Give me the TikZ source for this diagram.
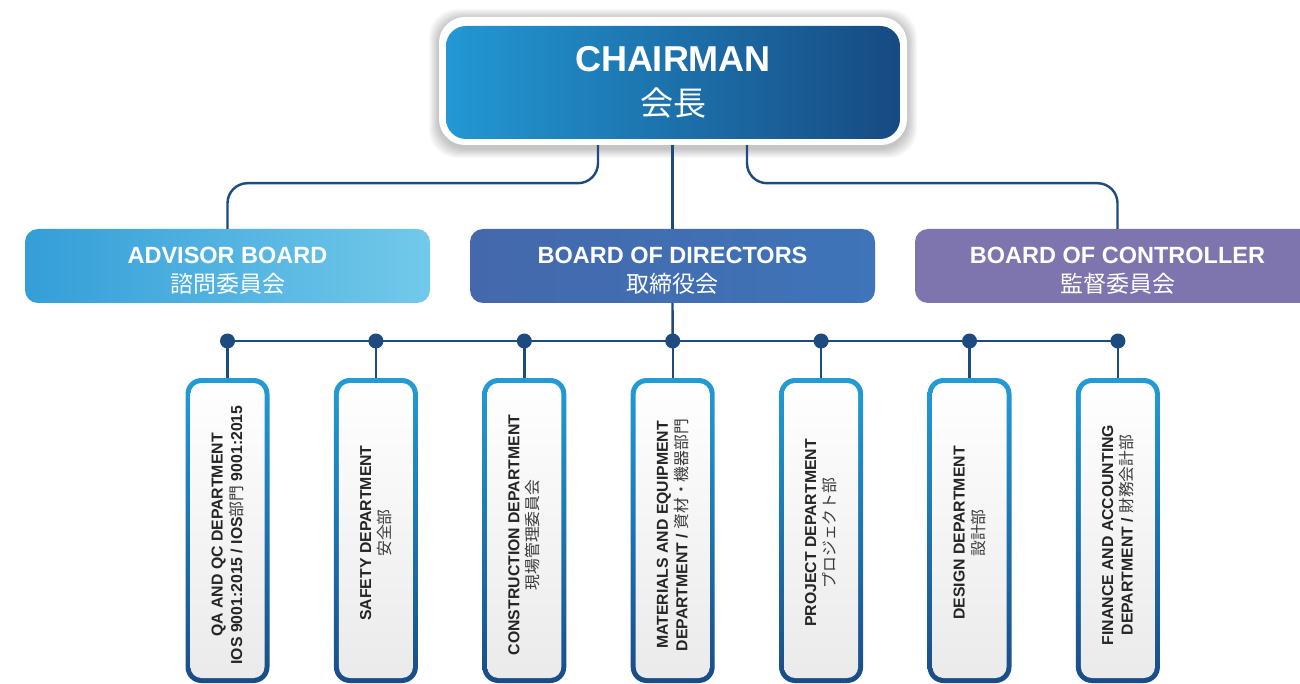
\documentclass[tikz,border=0pt]{standalone}
\usepackage{fontspec}
\setmainfont{Liberation Sans}
\newfontfamily\cjk{Noto Sans CJK JP}
\usetikzlibrary{calc}
\definecolor{conn}{HTML}{1D4B80}
\definecolor{chairL}{HTML}{2298D4}
\definecolor{chairR}{HTML}{174A82}
\definecolor{advL}{HTML}{349ED8}
\definecolor{advR}{HTML}{72C9EA}
\definecolor{dirL}{HTML}{4568AC}
\definecolor{dirR}{HTML}{3E74B8}
\definecolor{conL}{HTML}{7E75AF}
\definecolor{conM}{HTML}{9690C3}
\definecolor{brdT}{HTML}{229CD6}
\definecolor{brdB}{HTML}{1A4C87}
\definecolor{fillB}{HTML}{EAEAEA}
\definecolor{txt}{HTML}{252525}
\definecolor{txtj}{HTML}{3A3A3A}
\tikzset{
  connector/.style={draw=conn, line width=2.4pt},
  chairbox/.style={left color=chairL, right color=chairR, rounded corners=20pt,
    minimum width=454, minimum height=113, text=white, align=center, inner sep=0pt,
    font=\fontsize{36}{44}\selectfont},
  boardbox/.style={rounded corners=13pt, minimum width=405, minimum height=74,
    text=white, align=center, inner sep=0pt, font=\fontsize{23.5}{29}\selectfont},
  deptbox/.style={top color=brdT, bottom color=brdB, rounded corners=16pt,
    minimum width=84, minimum height=305, inner sep=0pt,
    path picture={\shade[top color=white, bottom color=fillB, rounded corners=11pt]
      ([shift={(5pt,-5pt)}]path picture bounding box.north west) rectangle
      ([shift={(-5pt,5pt)}]path picture bounding box.south east);}},
  depttext/.style={rotate=90, align=center, text=txt, inner sep=0pt,
    font=\fontsize{15.8}{19.5}\selectfont\bfseries},
  dot/.style={circle, fill=conn, minimum size=15pt, inner sep=0pt},
}
\newcommand{\jp}[1]{{\cjk\mdseries\color{txtj}#1}}
\newcommand{\hstrut}{\rule{0pt}{25pt}}
\begin{document}
\begin{tikzpicture}[x=1pt,y=-1pt]
\useasboundingbox (0,0) rectangle (1300,684);
\clip (0,0) rectangle (1300,684);
\fill[white] (0,0) rectangle (1300,684);

% chairman shadow
\foreach \i in {1,...,10}
  \fill[black, opacity=0.022, rounded corners=28pt] (439-\i,19-\i) rectangle (907+\i,148+\i);
\node[fill=white, rounded corners=26pt, minimum width=468, minimum height=128, inner sep=0pt] (chairframe) at (673,81) {};
\node[chairbox] (chair) at (673,82.5)
  {{\bfseries CHAIRMAN}\\{\cjk\fontsize{33}{44}\selectfont 会長}};

% boards
\node[boardbox, left color=advL, right color=advR] (adv) at (227.5,266)
  {{\hstrut\bfseries ADVISOR BOARD}\\{\cjk\fontsize{23}{29}\selectfont 諮問委員会}};
\node[boardbox, left color=dirL, right color=dirR] (dir) at (672.5,266)
  {{\hstrut\bfseries BOARD OF DIRECTORS}\\{\cjk\fontsize{23}{29}\selectfont 取締役会}};
\node[boardbox, left color=conL, middle color=conM, right color=conL] (con) at (1117.5,266)
  {{\hstrut\bfseries BOARD OF CONTROLLER}\\{\cjk\fontsize{23}{29}\selectfont 監督委員会}};

% chairman connectors
\draw[connector, rounded corners=20pt] ($(chairframe.south)+(-75,0)$) -- ++(0,38) -| (adv.north);
\draw[connector, rounded corners=20pt] ($(chairframe.south)+(74,0)$) -- ++(0,38) -| (con.north);
\draw[connector] (chairframe.south -| dir.north) -- (dir.north);

% departments
\foreach \k/\x in {1/227.5,2/375.9,3/524.3,4/672.7,5/821.1,6/969.5,7/1117.9}{
  \node[deptbox] (d\k) at (\x,530.5) {};
  \coordinate (b\k) at (\x,341);
}
\draw[connector] (dir.south) -- (b4);
\draw[connector] (b1) -- (b7);
\foreach \k in {1,...,7}{
  \draw[connector] (b\k) -- (d\k.north);
  \node[dot] (p\k) at (b\k) {};
}

\node[depttext] (t1) at (227.5,535) {QA AND QC DEPARTMENT\\IOS 9001:2015 / IOS\jp{部門} 9001:2015};
\node[depttext] (t2) at (375.9,533) {SAFETY DEPARTMENT\\\jp{安全部}};
\node[depttext] (t3) at (524.3,535) {CONSTRUCTION DEPARTMENT\\\jp{現場管理委員会}};
\node[depttext] (t4) at (672.7,535) {MATERIALS AND EQUIPMENT\\DEPARTMENT / \jp{資材・機器部門}};
\node[depttext] (t5) at (821.1,533) {PROJECT DEPARTMENT\\\jp{プロジェクト部}};
\node[depttext] (t6) at (969.5,533) {DESIGN DEPARTMENT\\\jp{設計部}};
\node[depttext] (t7) at (1117.9,535) {FINANCE AND ACCOUNTING\\DEPARTMENT / \jp{財務会計部}};
\end{tikzpicture}
\end{document}
